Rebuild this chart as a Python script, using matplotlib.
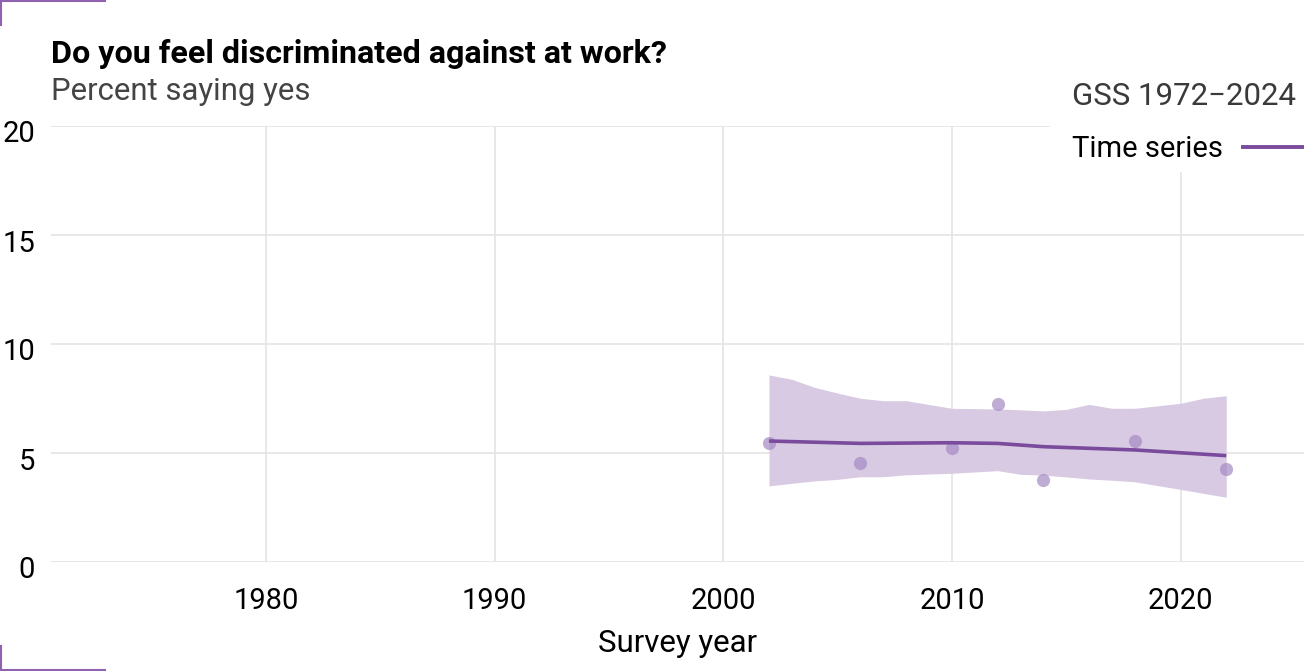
import matplotlib
matplotlib.use("Agg")
import matplotlib.pyplot as plt
from matplotlib.lines import Line2D
from matplotlib.patches import Rectangle
from matplotlib.transforms import ScaledTranslation

plt.rcParams["font.family"] = ["Roboto", "DejaVu Sans"]

# survey points (percent saying yes)
years = [2002, 2006, 2010, 2012, 2014, 2018, 2022]
pct = [5.47, 4.53, 5.21, 7.25, 3.76, 5.55, 4.25]

# smoothed trend
trend = [5.55, 5.44, 5.47, 5.44, 5.29, 5.14, 4.88]

# confidence band
band_years = [2002, 2003, 2004, 2005, 2006, 2007, 2008, 2010, 2012, 2013,
              2014, 2015, 2016, 2017, 2018, 2020, 2021, 2022]
band_hi = [8.58, 8.38, 8.01, 7.75, 7.51, 7.40, 7.40, 7.05, 7.02, 6.98,
           6.93, 7.00, 7.23, 7.05, 7.05, 7.28, 7.51, 7.63]
band_lo = [3.49, 3.61, 3.72, 3.79, 3.91, 3.91, 4.00, 4.07, 4.19, 4.02,
           3.99, 3.90, 3.81, 3.75, 3.68, 3.33, 3.15, 2.97]

x_ticks = [1980, 1990, 2000, 2010, 2020]
y_ticks = [0, 5, 10, 15, 20]

purple = "#7a4a9c"
W, H = 1304, 671

fig = plt.figure(figsize=(W / 100, H / 100), dpi=100)
ax = fig.add_axes([51 / W, 1 - 562 / H, (1304 - 51) / W, (562 - 126) / H])

ax.fill_between(band_years, band_lo, band_hi, color="#d8cae2", lw=0, zorder=2)
ax.plot(years, trend, color=purple, lw=2.6, zorder=4, solid_capstyle="butt")
ax.scatter(years, pct, s=90, color="#a68cc4", alpha=0.72, lw=0, zorder=3)

ax.set_xlim(1970.6, 2025.4)
ax.set_ylim(0, 20)
ax.set_xticks(x_ticks)
ax.set_yticks(y_ticks)
ax.grid(True, color="#e4e4e4", lw=1.2)
ax.set_axisbelow(True)
for s in ax.spines.values():
    s.set_visible(False)
ax.tick_params(length=0, labelsize=21, colors="black")
ax.tick_params(axis="x", pad=18)
ax.tick_params(axis="y", pad=11.5)
for lab in ax.get_yticklabels():
    lab.set_transform(lab.get_transform() + ScaledTranslation(0, -5.5 / 100, fig.dpi_scale_trans))
ax.set_xlabel("Survey year", fontsize=22.5, labelpad=10)

# titles
fig.text(51 / W, 1 - 63 / H, "Do you feel discriminated against at work?",
         fontsize=23.2, fontweight="bold", va="baseline")
fig.text(51 / W, 1 - 100 / H, "Percent saying yes", fontsize=22.4,
         color="#444444", va="baseline")

# legend box
fig.patches.append(Rectangle((1050 / W, 1 - 171 / H), (W - 1050) / W, 120 / H,
                             transform=fig.transFigure, color="white", zorder=5))
fig.text(1072 / W, 1 - 105 / H, "GSS 1972\u22122024", fontsize=22.5,
         color="#3a3a3a", va="baseline", zorder=6)
fig.text(1072 / W, 1 - 157 / H, "Time series", fontsize=21,
         color="black", va="baseline", zorder=6)
fig.lines.append(Line2D([1243 / W, 1], [1 - 147 / H, 1 - 147 / H],
                        transform=fig.transFigure, color=purple, lw=2.8, zorder=6))

# corner marks
corner = "#8e62b0"
fig.lines.append(Line2D([0, 105 / W], [1 - 0.5 / H, 1 - 0.5 / H], transform=fig.transFigure, color=corner, lw=1.5))
fig.lines.append(Line2D([0.5 / W, 0.5 / W], [1, 1 - 25 / H], transform=fig.transFigure, color=corner, lw=1.5))
fig.lines.append(Line2D([0, 105 / W], [1.0 / H, 1.0 / H], transform=fig.transFigure, color=corner, lw=1.5))
fig.lines.append(Line2D([0.5 / W, 0.5 / W], [0, 25 / H], transform=fig.transFigure, color=corner, lw=1.5))

fig.savefig("out.png", dpi=100)
